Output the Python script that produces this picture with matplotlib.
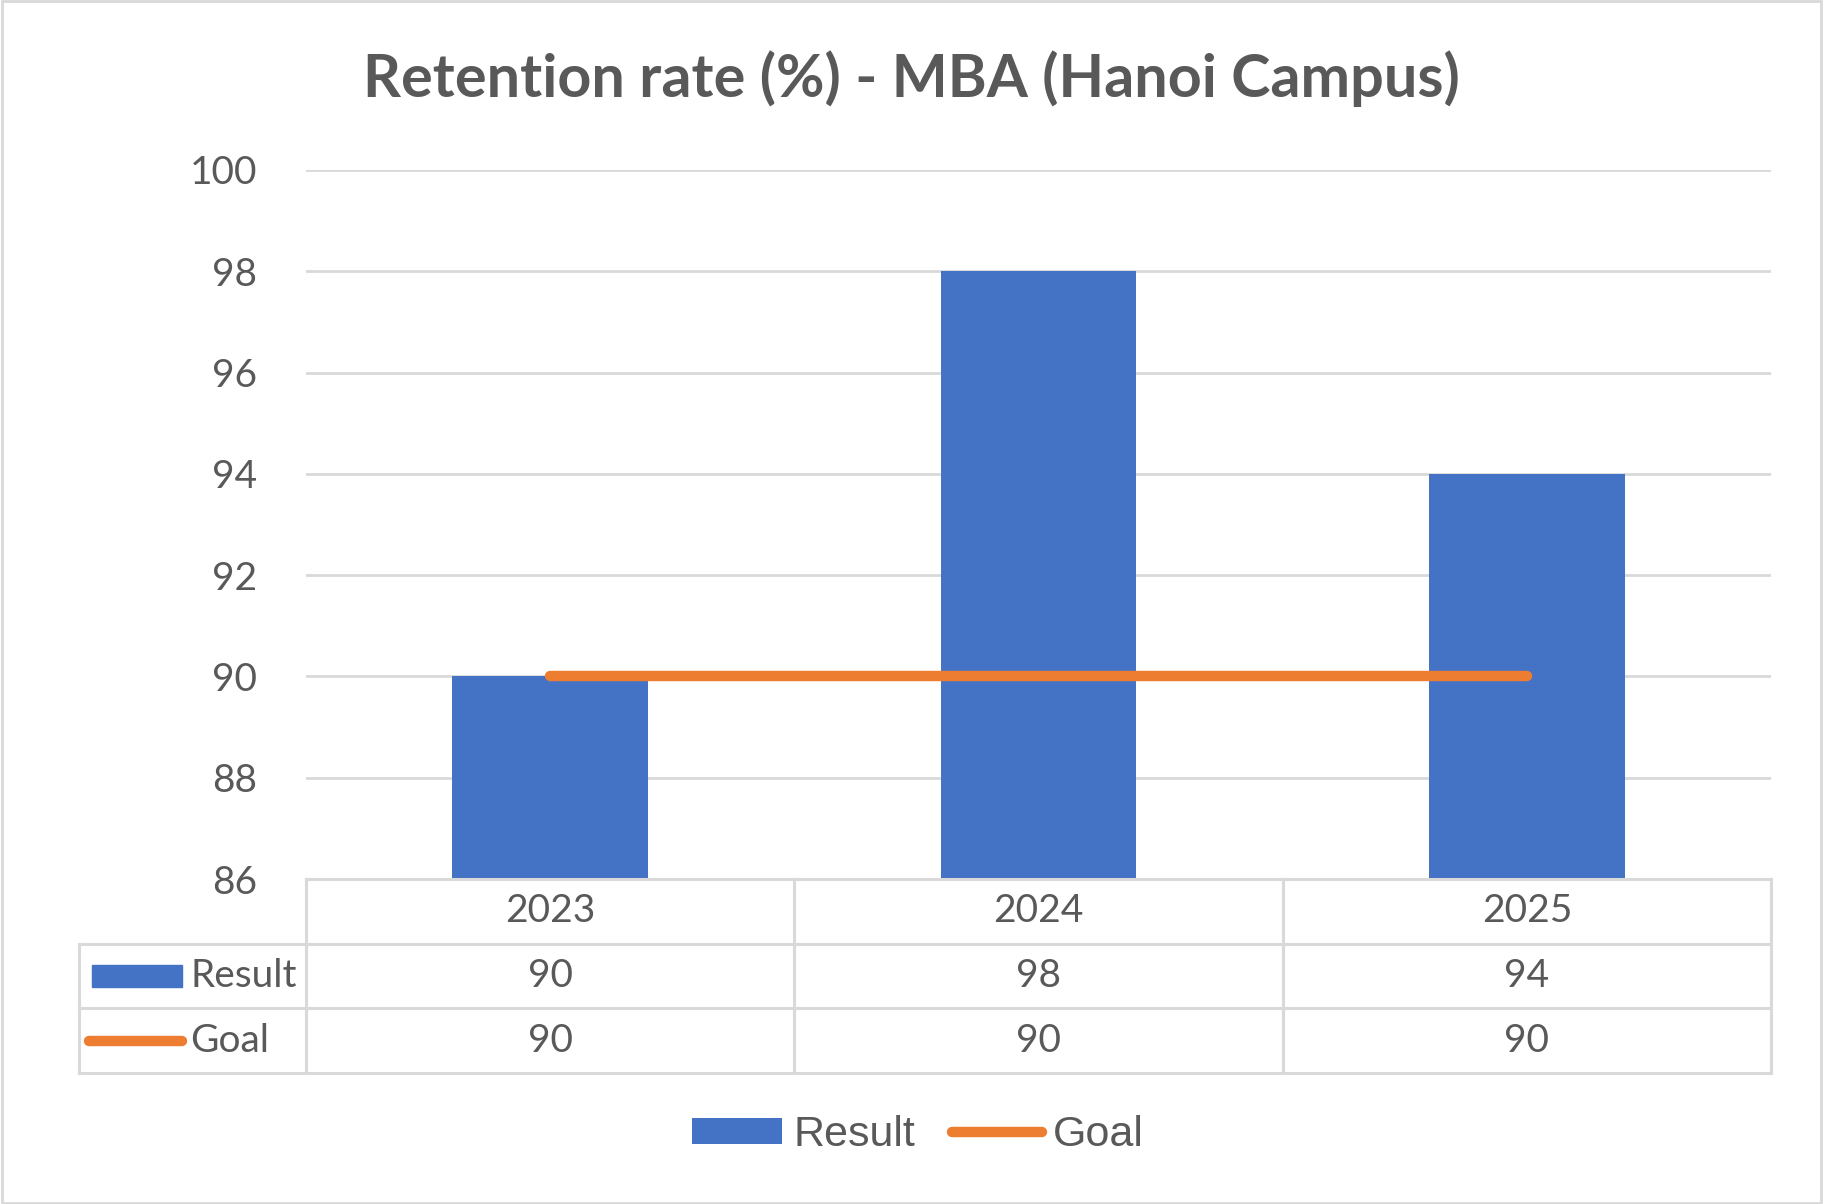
import numpy as np
import matplotlib
matplotlib.use('Agg')
import matplotlib.pyplot as plt
from matplotlib.patches import Patch, Rectangle
from matplotlib.lines import Line2D

# --------------------------------------------------------------------
#                       DATA
# --------------------------------------------------------------------
years = ['2023', '2024', '2025']
result = [90, 98, 94]
goal = [90, 90, 90]
series_names = ['Result', 'Goal']
y_ticks = [86, 88, 90, 92, 94, 96, 98, 100]
title = 'Retention rate (%) - MBA (Hanoi Campus)'

# --------------------------------------------------------------------
#                       STYLE
# --------------------------------------------------------------------
BLUE = '#4472C4'
ORANGE = '#ED7D31'
GRID = '#D9D9D9'
TEXT = '#595959'
BODY_FONT = ['Lato', 'DejaVu Sans']
LEGEND_FONT = ['Liberation Sans', 'DejaVu Sans']
FS = 28

W, H = 1823, 1204
fig = plt.figure(figsize=(W / 100, H / 100), dpi=100)
fig.patch.set_facecolor('white')

# outer chart border
fig.add_artist(Rectangle((0.001, 0.001), 0.998, 0.998, transform=fig.transFigure,
                         fill=False, edgecolor=GRID, linewidth=2))

# plot area in pixel coords
left_px, right_px = 306, 1771
top_px, bottom_px = 170, 879
tab_left_px, tab_bottom_px = 79, 1073

ax = fig.add_axes([left_px / W, 1 - bottom_px / H,
                   (right_px - left_px) / W, (bottom_px - top_px) / H])
x = np.arange(len(years))

ax.bar(x, result, width=0.4, color=BLUE, zorder=2)
ax.plot(x, goal, color=ORANGE, linewidth=7.5, solid_capstyle='round', zorder=3)

ax.set_xlim(-0.5, len(years) - 0.5)
ax.set_ylim(y_ticks[0], y_ticks[-1])
ax.set_yticks(y_ticks)
ax.set_yticklabels([str(t) for t in y_ticks], fontsize=FS, color=TEXT, family=BODY_FONT)
ax.set_xticks([])
ax.tick_params(axis='y', length=0, pad=35)
ax.grid(axis='y', color=GRID, linewidth=2, zorder=0)
for s in ax.spines.values():
    s.set_visible(False)

fig.text(0.5, 1 - 79 / H, title, ha='center', va='center', fontsize=42.7,
         fontweight='bold', color=TEXT, family=BODY_FONT)

# --------------------------------------------------------------------
#                       DATA TABLE
# --------------------------------------------------------------------
tab = fig.add_axes([left_px / W, 1 - tab_bottom_px / H,
                    (right_px - left_px) / W, (tab_bottom_px - bottom_px) / H])
tab.set_xlim(-0.5, len(years) - 0.5)
tab.set_ylim(3, 0)
tab.axis('off')

col_w = (right_px - left_px) / len(years)
x_lab = -0.5 - (left_px - tab_left_px) / col_w
lw_tab = 2.2

# horizontal rules
tab.plot([-0.5, 2.5], [0, 0], color=GRID, lw=lw_tab, clip_on=False)
for r in [1, 2, 3]:
    tab.plot([x_lab, 2.5], [r, r], color=GRID, lw=lw_tab, clip_on=False)
# vertical rules
tab.plot([x_lab, x_lab], [1, 3], color=GRID, lw=lw_tab, clip_on=False)
for c in [-0.5, 0.5, 1.5, 2.5]:
    tab.plot([c, c], [0, 3], color=GRID, lw=lw_tab, clip_on=False)

for i, yr in enumerate(years):
    tab.text(i, 0.5, yr, ha='center', va='center', fontsize=FS, color=TEXT, family=BODY_FONT)
    tab.text(i, 1.5, str(result[i]), ha='center', va='center', fontsize=FS, color=TEXT, family=BODY_FONT)
    tab.text(i, 2.5, str(goal[i]), ha='center', va='center', fontsize=FS, color=TEXT, family=BODY_FONT)

# legend keys inside the table
px = 1 / col_w
tab.add_patch(Rectangle((x_lab + 13 * px, 1.33), 90 * px, 0.34, color=BLUE, clip_on=False))
tab.plot([x_lab + 10 * px, x_lab + 103 * px], [2.5, 2.5], color=ORANGE, lw=7.5,
         solid_capstyle='round', clip_on=False)
tab.text(x_lab + 111 * px, 1.5, series_names[0], ha='left', va='center', fontsize=FS,
         color=TEXT, family=BODY_FONT)
tab.text(x_lab + 111 * px, 2.5, series_names[1], ha='left', va='center', fontsize=FS,
         color=TEXT, family=BODY_FONT)

# --------------------------------------------------------------------
#                       LEGEND
# --------------------------------------------------------------------
handles = [Patch(facecolor=BLUE, edgecolor='none'),
           Line2D([0], [0], color=ORANGE, lw=7.5, solid_capstyle='round')]
fig.legend(handles, series_names, loc='center', bbox_to_anchor=(0.5035, 1 - 1135 / H),
           ncol=2, frameon=False, handlelength=2.1, handleheight=0.55, handletextpad=0.25,
           columnspacing=0.85, prop={'family': LEGEND_FONT, 'size': 31}, labelcolor=TEXT)

plt.savefig('out.png', dpi=100)
plt.close()
